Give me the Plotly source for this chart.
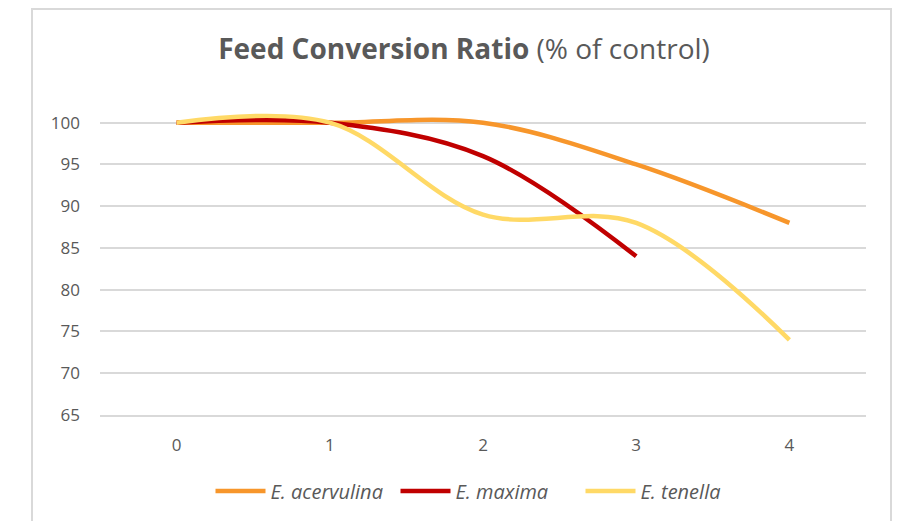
import plotly.graph_objects as go

doses = ["0", "1", "2", "3", "4"]
acervulina = [100, 100, 100, 95, 88]
maxima = [100, 100, 96, 84, None]
tenella = [100, 100, 89, 88, 74]

names = ["<i>E. acervulina</i>", "<i>E. maxima</i>", "<i>E. tenella</i>"]
colors = ["#F7962B", "#C00000", "#FFD966"]
series = [acervulina, maxima, tenella]

y_ticks = [65, 70, 75, 80, 85, 90, 95, 100]

fig = go.Figure()
for name, col, vals in zip(names, colors, series):
    fig.add_trace(go.Scatter(
        x=doses, y=vals, name=name, mode="lines",
        line=dict(color=col, width=4.5, shape="spline", smoothing=1.0),
        cliponaxis=False,
    ))

# page body has an 8px offset
W, H = 897, 513
ml, mr, mt, mb = 92, 39, 98, 106
pw, ph = W - ml - mr, H - mt - mb

def px_x(p):
    return (p - ml) / pw

def px_y(p):
    return (H - mb - p) / ph

fig.add_shape(type="rect", xref="paper", yref="paper",
              x0=px_x(24), x1=px_x(883), y0=px_y(540), y1=px_y(1),
              line=dict(color="#D9D9D9", width=2), fillcolor="rgba(0,0,0,0)",
              layer="below")

fig.update_layout(
    width=W, height=H,
    margin=dict(l=ml, r=mr, t=mt, b=mb),
    paper_bgcolor="white", plot_bgcolor="white",
    font=dict(family="Open Sans, sans-serif", color="#595959", size=17),
    title=dict(
        text="<b>Feed Conversion Ratio</b> (% of control)",
        x=456 / W, xref="container", xanchor="center",
        y=1 - 41 / H, yref="container", yanchor="middle",
        font=dict(size=28, color="#595959", family="Open Sans, sans-serif"),
    ),
    xaxis=dict(
        type="category", range=[-0.5, 4.5],
        showgrid=False, zeroline=False,
        showline=True, linecolor="#D9D9D9", linewidth=1.5,
        ticks="", tickfont=dict(size=17, color="#595959"),
        ticklabelstandoff=14,
    ),
    yaxis=dict(
        range=[65, 102], tickvals=y_ticks,
        showgrid=True, gridcolor="#D9D9D9", gridwidth=1.5,
        zeroline=False, showline=False, ticks="",
        tickfont=dict(size=17, color="#595959"),
        ticklabelstandoff=19,
    ),
    legend=dict(
        orientation="h", x=480 / W, xref="container", xanchor="center",
        y=1 - 483 / H, yref="container", yanchor="middle",
        font=dict(size=20, color="#595959"),
        itemwidth=50,
        entrywidth=120, entrywidthmode="pixels",
    ),
    showlegend=True,
)

fig.write_html("out.html")
